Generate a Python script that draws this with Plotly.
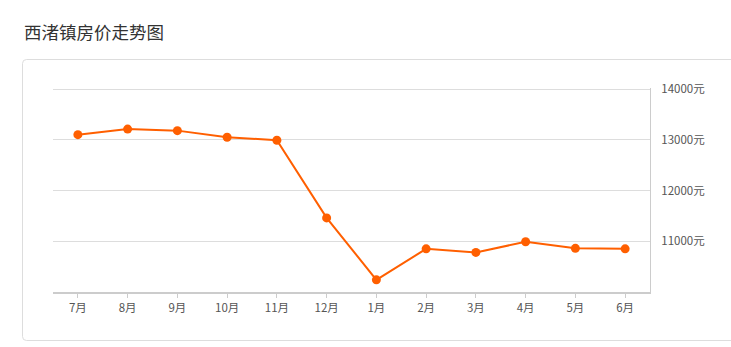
import plotly.graph_objects as go

months = ["7月", "8月", "9月", "10月", "11月", "12月", "1月", "2月", "3月", "4月", "5月", "6月"]
prices = [13100, 13210, 13180, 13050, 12990, 11460, 10240, 10850, 10780, 10990, 10860, 10850]
y_ticks = [11000, 12000, 13000, 14000]
y_ticktext = [f"{v}元" for v in y_ticks]
title_text = "西渚镇房价走势图"

W, H = 731, 347
L, R, T, B = 53, 650, 88, 292
pw, ph = R - L, B - T

def px(x):
    return (x - L) / pw

def py(y):
    return (B - y) / ph

# rounded box path
bx0, by0, bx1, by1, r = 22.5, 59.5, 740, 340.5, 4
pts = (
    f"M {px(bx0 + r)} {py(by0)} L {px(bx1 - r)} {py(by0)} "
    f"Q {px(bx1)} {py(by0)} {px(bx1)} {py(by0 + r)} L {px(bx1)} {py(by1 - r)} "
    f"Q {px(bx1)} {py(by1)} {px(bx1 - r)} {py(by1)} L {px(bx0 + r)} {py(by1)} "
    f"Q {px(bx0)} {py(by1)} {px(bx0)} {py(by1 - r)} L {px(bx0)} {py(by0 + r)} "
    f"Q {px(bx0)} {py(by0)} {px(bx0 + r)} {py(by0)} Z"
)

fig = go.Figure()
fig.add_trace(go.Scatter(
    x=months, y=prices, mode="lines+markers",
    line=dict(color="#ff5f00", width=2),
    marker=dict(color="#ff5f00", size=9),
    hoverinfo="x+y",
))

fig.update_layout(
    width=W, height=H,
    margin=dict(l=L, r=W - R, t=T, b=H - B, pad=0),
    paper_bgcolor="white", plot_bgcolor="white",
    showlegend=False,
    font=dict(family="Noto Sans CJK SC, Microsoft YaHei, sans-serif", color="#555", size=11.5),
    xaxis=dict(
        type="category", range=[-0.5, 11.5],
        showgrid=False, showline=True, linecolor="#cccccc", linewidth=1.5,
        ticks="outside", ticklen=4, tickcolor="#cccccc",
        tickfont=dict(size=11.5, color="#555"),
        zeroline=False, fixedrange=True,
    ),
    yaxis=dict(
        side="right", range=[10000, 14020],
        tickvals=y_ticks, ticktext=y_ticktext,
        showgrid=True, gridcolor="#dddddd", gridwidth=1,
        showline=True, linecolor="#cccccc", linewidth=1,
        ticks="outside", ticklen=8, tickcolor="rgba(0,0,0,0)",
        tickfont=dict(size=11.5, color="#555"),
        zeroline=False, fixedrange=True,
    ),
    shapes=[
        dict(type="path", xref="paper", yref="paper", path=pts,
             line=dict(color="#dddddd", width=1), fillcolor="rgba(0,0,0,0)", layer="below"),
    ],
    annotations=[dict(
        text=title_text, xref="paper", yref="paper",
        x=px(22), y=py(31), xanchor="left", yanchor="middle",
        showarrow=False, font=dict(size=17.5, color="#333"),
    )],
)

fig.write_html("out.html")
